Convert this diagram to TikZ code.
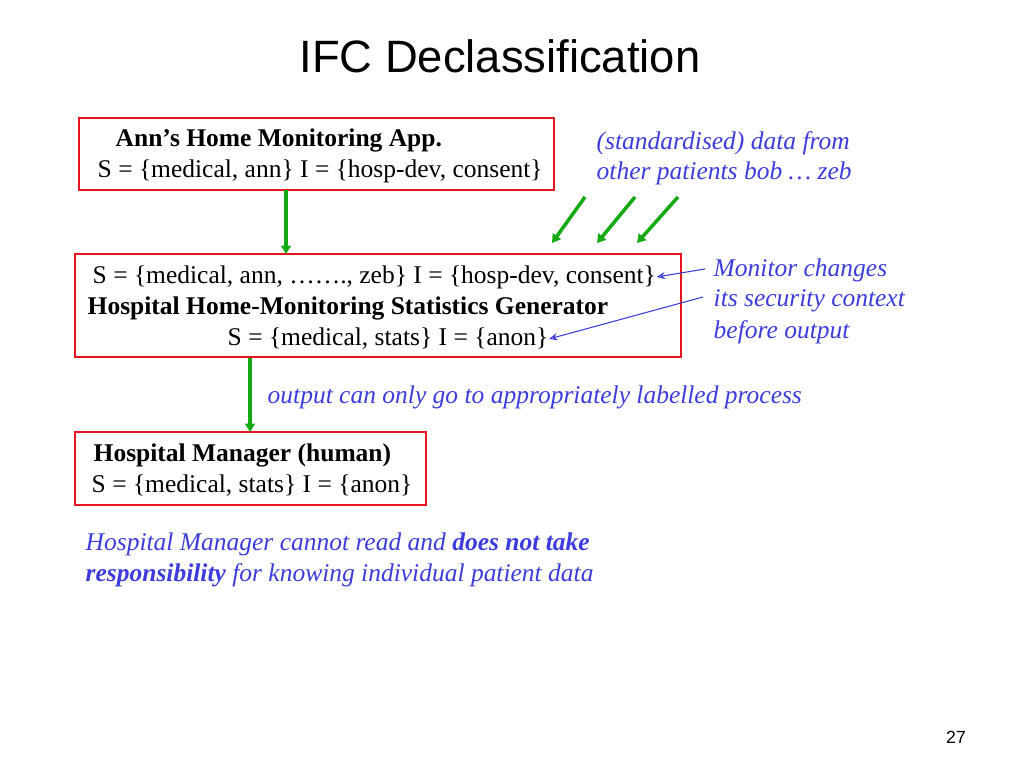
\documentclass[tikz,border=0pt]{standalone}
\usepackage{fontspec}
\setmainfont{Liberation Serif}
\setsansfont{Liberation Sans}
\usetikzlibrary{arrows.meta}
\definecolor{boxred}{RGB}{230,20,30}
\definecolor{arrowgreen}{RGB}{20,170,20}
\definecolor{noteblue}{RGB}{60,60,220}
\tikzset{%
    redbox/.style={draw=boxred, line width=0.6pt, inner sep=0pt},
    txt/.style={anchor=west, inner sep=0pt, font=\fontsize{7.25}{8}\selectfont},
    note/.style={txt, text=noteblue, font=\fontsize{7.25}{8}\selectfont\itshape},
    garrow/.style={-{Triangle[length=2.4pt,width=2.8pt]}, arrowgreen, line width=1pt},
    barrow/.style={-{Stealth[length=2.4pt,width=2pt,open]}, noteblue, line width=0.3pt}
}
\begin{document}
\begin{tikzpicture}[x=0.01cm,y=-0.01cm]
    \useasboundingbox (0,0) rectangle (1024,768);
    \node[font=\sffamily\fontsize{12.9}{14}\selectfont] (title) at (500,56) {IFC Declassification};
%-----------------------------------------------
    \node[redbox, minimum width=4.75cm, minimum height=0.72cm] (app) at (316.5,154) {};
    \node[redbox, minimum width=6.06cm, minimum height=1.03cm] (gen) at (378,305.5) {};
    \node[redbox, minimum width=3.51cm, minimum height=0.73cm] (mgr) at (250.5,468.5) {};
%-----------------------------------------------
    \node[txt, font=\fontsize{7.25}{8}\selectfont\bfseries] (appname) at (115,140) {Ann’s Home Monitoring App.};
    \node[txt] (applab) at (97,171) {S = \{medical, ann\} I = \{hosp-dev, consent\}};
    \node[txt] (genin) at (92,277) {S = \{medical, ann, \dots\dots., zeb\} I = \{hosp-dev, consent\}};
    \node[txt, font=\fontsize{7.25}{8}\selectfont\bfseries] (genname) at (87,308) {Hospital Home-Monitoring Statistics Generator};
    \node[txt] (genout) at (227,339) {S = \{medical, stats\} I = \{anon\}};
    \node[txt, font=\fontsize{7.25}{8}\selectfont\bfseries] (mgrname) at (93,455) {Hospital Manager (human)};
    \node[txt] (mgrlab) at (91,486) {S = \{medical, stats\} I = \{anon\}};
%-----------------------------------------------
    \node[note] (data1) at (596,143) {(standardised) data from};
    \node[note] (data2) at (596,173) {other patients bob \dots{} zeb};
    \node[note] (mon1) at (713,270) {Monitor changes};
    \node[note] (mon2) at (713,301) {its security context};
    \node[note] (mon3) at (713,332) {before output};
    \node[note] (outnote) at (267,397) {output can only go to appropriately labelled process};
    \node[note] (resp1) at (85,544) {Hospital Manager cannot read and \textbf{does not take}};
    \node[note] (resp2) at (85,575) {\textbf{responsibility} for knowing individual patient data};
    \node[font=\sffamily\fontsize{5}{6}\selectfont] (page) at (956,737) {27};
%-----------------------------------------------
    \coordinate (a1) at (286,190); \coordinate (a2) at (286,254);
    \coordinate (b1) at (250,358); \coordinate (b2) at (250,432);
    \draw[garrow] (a1) -- (a2);
    \draw[garrow] (b1) -- (b2);
    \foreach \s/\e in {585/552, 635/597, 678/637}
        \draw[garrow] (\s,197) -- (\e,243);
%-----------------------------------------------
    \coordinate (m1) at (705,269); \coordinate (m2) at (703,297);
    \draw[barrow] (m1) -- (genin.east);
    \draw[barrow] (m2) -- (genout.east);
\end{tikzpicture}
\end{document}
